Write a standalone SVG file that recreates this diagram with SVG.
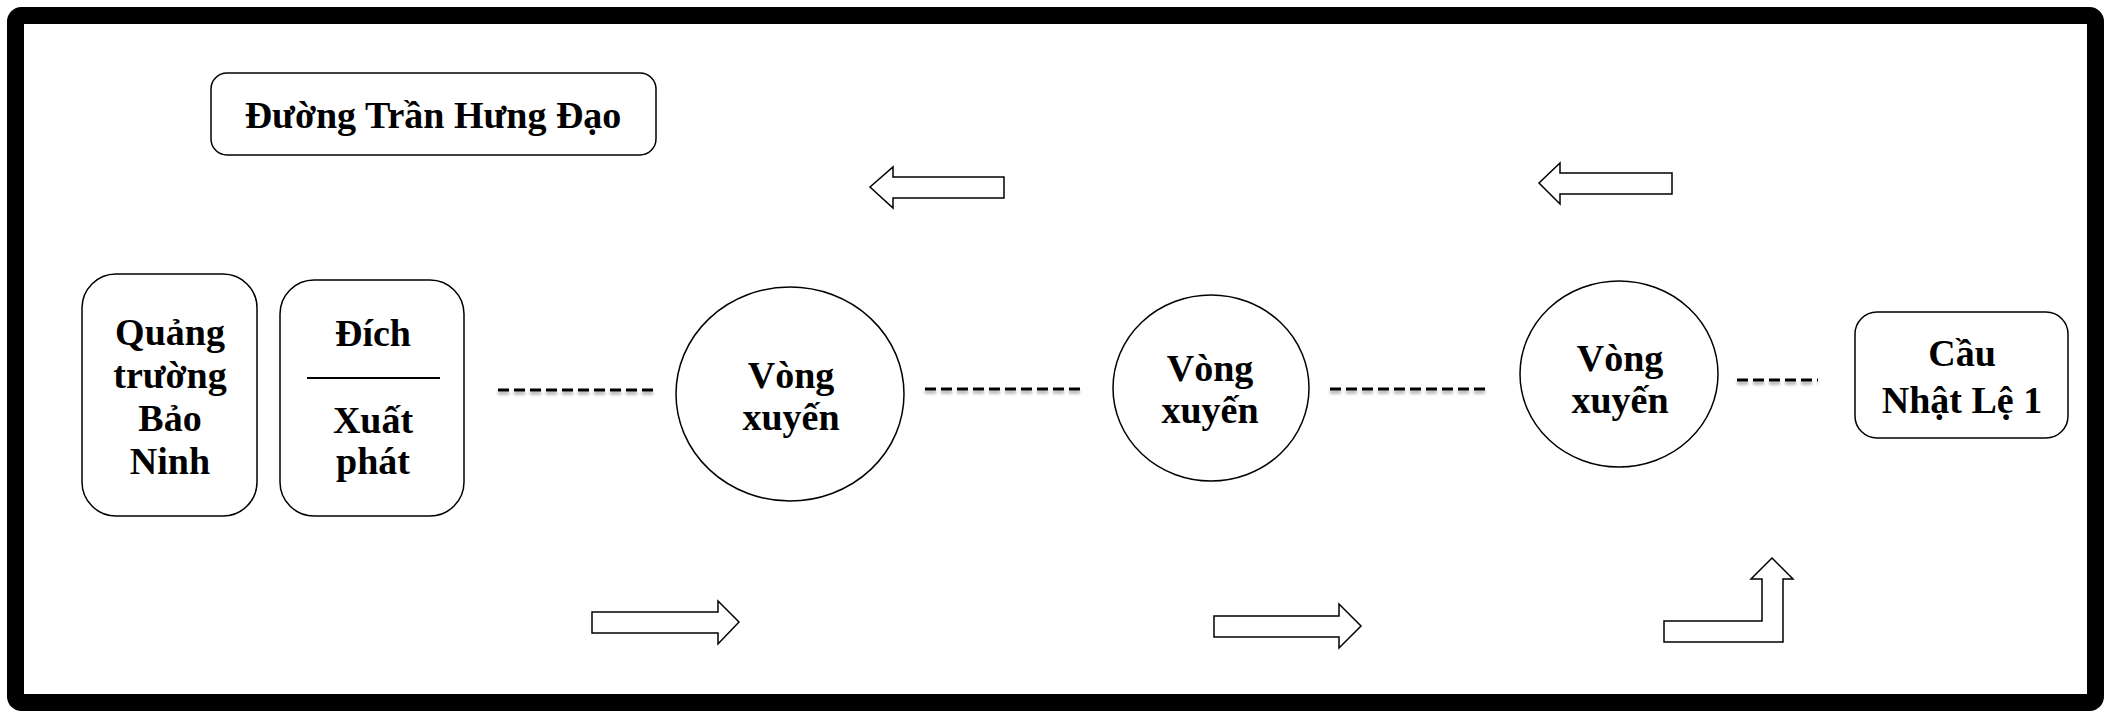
<svg xmlns="http://www.w3.org/2000/svg" width="2111" height="713" viewBox="0 0 2111 713">
<style>
.t{font-family:"Liberation Serif","Times New Roman",serif;font-weight:bold;font-size:38px;fill:#000;text-anchor:middle}
.box{fill:#fff;stroke:#000;stroke-width:1.5}
.arr{fill:#fff;stroke:#000;stroke-width:1.5;stroke-linejoin:miter}
.dash{stroke:#000;stroke-width:3;stroke-dasharray:11 5;fill:none}
</style>
<defs>
<filter id="sh" x="-5%" y="-200%" width="110%" height="500%">
<feDropShadow dx="0" dy="3" stdDeviation="1.5" flood-color="#000" flood-opacity="0.35"/>
</filter>
</defs>
<rect x="0" y="0" width="2111" height="713" fill="#fff"/>
<rect id="frame" x="15.5" y="15.5" width="2080" height="687" rx="6" fill="none" stroke="#000" stroke-width="17"/>

<g id="title">
<rect class="box" x="211" y="73" width="445" height="82" rx="16"/>
<text class="t" x="433" y="128">Đường Trần Hưng Đạo</text>
</g>

<g id="quangtruong">
<rect class="box" x="82" y="274" width="175" height="242" rx="34"/>
<text class="t" x="170" y="345">Quảng</text>
<text class="t" x="170" y="388">trường</text>
<text class="t" x="170" y="431">Bảo</text>
<text class="t" x="170" y="474">Ninh</text>
</g>

<g id="dich">
<rect class="box" x="280" y="280" width="184" height="236" rx="34"/>
<text class="t" x="373" y="346">Đích</text>
<line x1="307" y1="378" x2="440" y2="378" stroke="#000" stroke-width="2"/>
<text class="t" x="373" y="433">Xuất</text>
<text class="t" x="373" y="474">phát</text>
</g>

<g id="vong1">
<ellipse class="box" cx="790" cy="394" rx="114" ry="107"/>
<text class="t" x="791" y="388">Vòng</text>
<text class="t" x="791" y="430">xuyến</text>
</g>

<g id="vong2">
<ellipse class="box" cx="1211" cy="388" rx="98" ry="93"/>
<text class="t" x="1210" y="381">Vòng</text>
<text class="t" x="1210" y="423">xuyến</text>
</g>

<g id="vong3">
<ellipse class="box" cx="1619" cy="374" rx="99" ry="93"/>
<text class="t" x="1620" y="371">Vòng</text>
<text class="t" x="1620" y="413">xuyến</text>
</g>

<g id="caunhatle">
<rect class="box" x="1855" y="312" width="213" height="126" rx="22"/>
<text class="t" x="1962" y="366">Cầu</text>
<text class="t" x="1962" y="413">Nhật Lệ 1</text>
</g>

<g id="connectors">
<g filter="url(#sh)">
<line class="dash" x1="498" y1="390" x2="653" y2="390"/>
<line class="dash" x1="925" y1="389" x2="1080" y2="389"/>
<line class="dash" x1="1330" y1="389" x2="1486" y2="389"/>
<line class="dash" x1="1737" y1="380" x2="1818" y2="380"/>
</g>
<polygon class="arr" points="870,187 893,167 893,177 1004,177 1004,198 893,198 893,208"/>
<polygon class="arr" points="1539,183 1560,163 1560,173 1672,173 1672,194 1560,194 1560,204"/>
<polygon class="arr" points="592,612 718,612 718,601 739,622 718,644 718,633 592,633"/>
<polygon class="arr" points="1214,616 1339,616 1339,604 1361,626 1339,648 1339,637 1214,637"/>
<polygon class="arr" points="1664,621 1762,621 1762,579 1751,579 1772,558 1793,579 1783,579 1783,642 1664,642"/>
</g>
</svg>
